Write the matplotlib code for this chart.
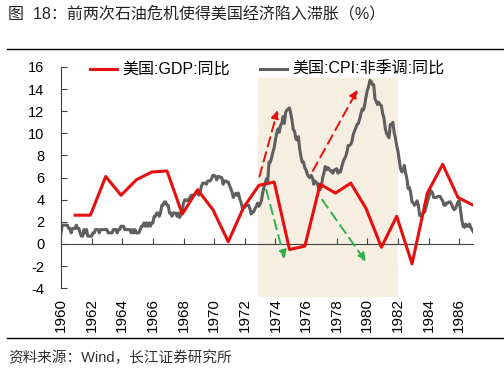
import numpy as np
import matplotlib
matplotlib.use("Agg")
import matplotlib.pyplot as plt

plt.rcParams['font.family'] = ['Liberation Sans', 'Noto Sans CJK SC', 'DejaVu Sans']

# annual GDP yoy (%), 1960-1986
gdp_years = np.arange(1960, 1987)
gdp = [2.6, 2.6, 6.1, 4.4, 5.8, 6.5, 6.6, 2.7, 4.9, 3.1, 0.2, 3.3, 5.3, 5.6,
       -0.5, -0.2, 5.4, 4.6, 5.5, 3.2, -0.3, 2.5, -1.8, 4.6, 7.2, 4.2, 3.5]

# monthly CPI yoy (%), 1960-01 .. 1986-12
cpi = [
    1.0, 1.7, 1.7, 1.7, 1.7, 1.7, 1.4, 1.4, 1.0, 1.4, 1.4, 1.4,
    1.7, 1.4, 1.4, 1.0, 0.7, 0.7, 1.3, 1.0, 1.3, 0.7, 0.7, 0.7,
    0.7, 1.0, 1.0, 1.3, 1.3, 1.3, 1.0, 1.3, 1.3, 1.3, 1.3, 1.3,
    1.3, 1.0, 1.0, 1.0, 1.0, 1.3, 1.3, 1.3, 1.0, 1.3, 1.3, 1.6,
    1.6, 1.6, 1.3, 1.3, 1.3, 1.3, 1.3, 1.0, 1.3, 1.0, 1.3, 1.0,
    1.0, 1.0, 1.3, 1.6, 1.6, 1.9, 1.6, 1.9, 1.6, 1.9, 1.6, 1.9,
    1.9, 2.5, 2.5, 2.8, 2.8, 2.5, 2.8, 3.5, 3.5, 3.8, 3.8, 3.5,
    3.5, 2.8, 2.8, 2.5, 2.8, 2.8, 2.8, 2.5, 2.8, 2.4, 2.7, 3.0,
    3.7, 4.0, 3.9, 4.0, 3.9, 4.2, 4.4, 4.4, 4.4, 4.5, 4.7, 4.7,
    4.4, 4.7, 5.2, 5.5, 5.5, 5.5, 5.4, 5.7, 5.7, 5.7, 5.9, 6.2,
    6.2, 6.1, 5.8, 6.1, 6.1, 6.0, 6.0, 5.4, 5.7, 5.7, 5.6, 5.6,
    5.3, 5.0, 4.7, 4.2, 4.4, 4.6, 4.4, 4.6, 4.1, 3.8, 3.3, 3.3,
    3.3, 3.5, 3.5, 3.5, 3.2, 2.7, 2.9, 2.9, 3.2, 3.4, 3.7, 3.4,
    3.6, 3.9, 4.6, 5.1, 5.5, 5.9, 5.7, 7.4, 7.4, 7.8, 8.3, 8.7,
    9.4, 10.0, 10.4, 10.1, 10.7, 10.9, 11.5, 10.9, 11.9, 12.1, 12.2, 12.3,
    11.8, 11.2, 10.3, 10.2, 9.5, 9.4, 9.7, 8.6, 7.9, 7.4, 7.4, 6.9,
    6.7, 6.3, 6.1, 6.0, 6.2, 6.0, 5.4, 5.7, 5.5, 5.5, 4.9, 4.9,
    5.2, 6.0, 6.4, 7.0, 6.7, 6.9, 6.8, 6.6, 6.6, 6.4, 6.7, 6.7,
    6.8, 6.4, 6.6, 6.5, 7.0, 7.4, 7.7, 7.9, 8.3, 8.9, 8.9, 9.0,
    9.3, 9.9, 10.2, 10.5, 10.8, 10.9, 11.3, 11.8, 12.2, 12.1, 12.6, 13.3,
    13.9, 14.2, 14.8, 14.7, 14.4, 14.4, 13.1, 12.9, 12.6, 12.8, 12.6, 12.5,
    11.8, 11.4, 10.5, 10.0, 9.8, 9.6, 10.8, 10.8, 11.0, 10.1, 9.6, 8.9,
    8.4, 7.6, 6.8, 6.5, 6.7, 7.1, 6.4, 5.9, 5.0, 5.1, 4.6, 3.8,
    3.7, 3.5, 3.6, 3.9, 3.5, 2.6, 2.5, 2.6, 2.9, 2.9, 3.3, 3.8,
    4.2, 4.6, 4.8, 4.6, 4.2, 4.2, 4.2, 4.3, 4.3, 4.3, 4.1, 3.9,
    3.5, 3.5, 3.7, 3.7, 3.8, 3.8, 3.6, 3.3, 3.1, 3.2, 3.5, 3.8,
    3.9, 3.1, 2.2, 1.6, 1.5, 1.8, 1.6, 1.6, 1.8, 1.5, 1.3, 1.1,
]
cpi_x = 1960 + np.arange(len(cpi)) / 12.0

# shaded oil-crisis window and arrows (start, end)
crisis = (1972.85, 1982.0)
red_arrows = [((1972.96, 6.1), (1974.15, 12.1)), ((1976.44, 6.6), (1979.37, 13.95))]
green_arrows = [((1973.4, 4.9), (1974.6, -1.35)), ((1977.05, 4.0), (1979.9, -1.6))]

xticks = np.arange(1960, 1987, 2)
yticks = np.arange(-4, 17, 2)

RED = '#e50f0f'
GRAY = '#5f5f5f'
GREEN = '#2fb04c'

fig = plt.figure(figsize=(5.04, 3.69), dpi=100)
ax = fig.add_axes([0.121, 0.195, 0.8175, 0.6235])

ax.fill_between(crisis, -4.8, 15.0, color='#f6eee0', lw=0, zorder=0)

ax.plot(gdp_years + 0.92, gdp, color=RED, lw=2.2, label='美国:GDP:同比', zorder=3)
ax.plot(cpi_x, cpi, color=GRAY, lw=2.2, label='美国:CPI:非季调:同比', zorder=2)

for arrows, c in ((red_arrows, RED), (green_arrows, GREEN)):
    for (x0, y0), (x1, y1) in arrows:
        ax.annotate('', xy=(x1, y1), xytext=(x0, y0),
                    arrowprops=dict(arrowstyle='-|>', color=c, lw=1.4,
                                    linestyle=(0, (5, 3)), mutation_scale=12,
                                    shrinkA=0, shrinkB=0), zorder=4)

ax.set_xlim(1960, 1986.9)
ax.set_ylim(-4.8, 16)
ax.set_yticks(yticks)
ax.set_yticklabels([str(v) for v in yticks], fontsize=10.5)
ax.spines['left'].set_bounds(-4, 16)
ax.spines['left'].set_color('#404040')
ax.spines['right'].set_visible(False)
ax.spines['top'].set_visible(False)
ax.spines['bottom'].set_position(('data', 0))
ax.spines['bottom'].set_color('#404040')
ax.set_xticks(xticks)
ax.tick_params(axis='x', direction='in', length=4, color='#404040', labelbottom=False)
ax.tick_params(axis='y', direction='in', length=4, color='#404040', pad=12)

sec = ax.secondary_xaxis('bottom')
sec.set_xticks(xticks)
sec.set_xticklabels([str(v) for v in xticks], rotation=90, fontsize=11)
sec.tick_params(length=0, pad=1)
sec.spines['bottom'].set_visible(False)

ax.legend(loc='upper center', bbox_to_anchor=(0.5, 1.05), ncol=2, frameon=False,
          fontsize=11.5, handlelength=1.7, handletextpad=0.3, columnspacing=1.9,
          borderaxespad=0)

fig.text(0.016, 0.962, '图  18：前两次石油危机使得美国经济陷入滞胀（%）', fontsize=11.5,
         va='center', ha='left', color='#222222')
fig.add_artist(plt.Line2D([0.014, 0.998], [0.867, 0.867], color='black', lw=1.0))
fig.add_artist(plt.Line2D([0.014, 0.998], [0.084, 0.084], color='black', lw=1.0))
fig.text(0.016, 0.03, '资料来源：Wind，长江证券研究所', fontsize=10.5,
         va='center', ha='left', color='#333333')

fig.savefig('out.png', dpi=100)
